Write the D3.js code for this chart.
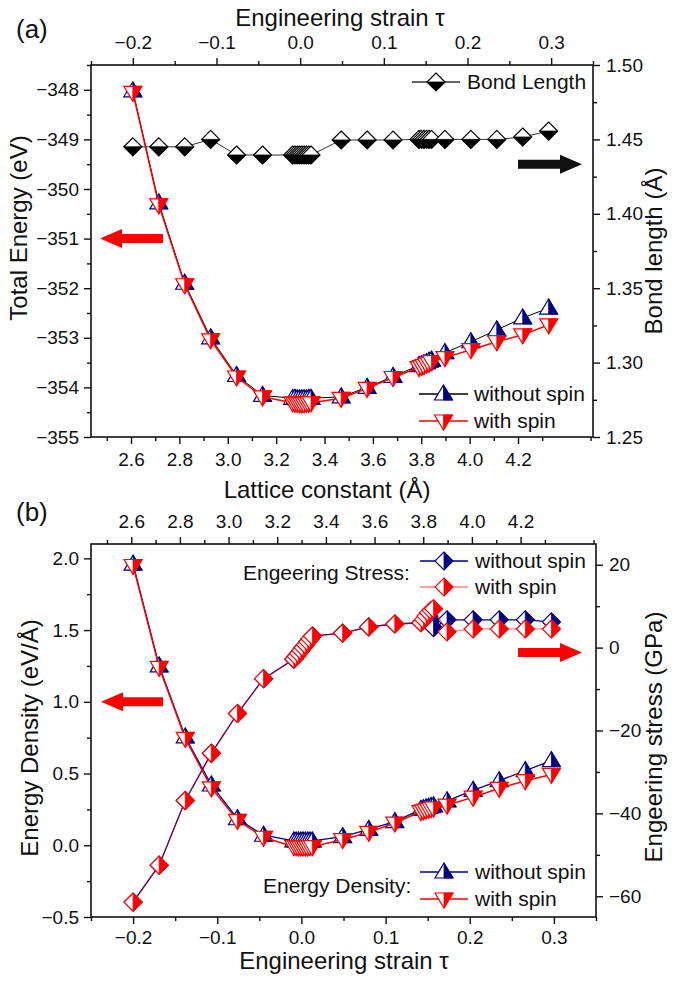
<!DOCTYPE html>
<html><head><meta charset="utf-8">
<script src="https://cdn.jsdelivr.net/npm/d3@7"></script>
<style>
body{margin:0;background:#fff}
svg text{font-family:"Liberation Sans",Arial,sans-serif;fill:#111}
</style>
</head><body>
<svg id="c" width="685" height="986"></svg>
<script>
// ---------------- data ----------------
const strain = [-0.2,-0.169,-0.138,-0.107,-0.076,-0.045,
  -0.009,-0.00625,-0.0035,-0.00075,0.002,0.00475,0.0075,0.01025,0.013,
  0.049,0.080,0.111,
  0.142,0.145,0.148,0.151,0.154,0.157,
  0.173,0.204,0.235,0.266,0.297];
const energyNoSpin = [-348.02,-350.28,-351.90,-353.00,-353.76,-354.16,
  -354.22,-354.22,-354.23,-354.23,-354.23,-354.23,-354.23,-354.22,-354.22,
  -354.19,-354.00,-353.78,
  -353.56,-353.54,-353.52,-353.50,-353.47,-353.45,
  -353.30,-353.08,-352.84,-352.60,-352.40];
const energySpin = [-348.05,-350.32,-351.93,-353.04,-353.79,-354.19,
  -354.31,-354.32,-354.32,-354.33,-354.33,-354.33,-354.32,-354.32,-354.31,
  -354.22,-354.02,-353.80,
  -353.60,-353.58,-353.56,-353.53,-353.51,-353.48,
  -353.40,-353.24,-353.08,-352.94,-352.74];
const bondLength = [1.445,1.445,1.445,1.450,1.4395,1.4395,
  1.4395,1.4395,1.4395,1.4395,1.4395,1.4395,1.4395,1.4395,1.4395,
  1.4496,1.4496,1.4496,
  1.450,1.450,1.450,1.450,1.450,1.450,
  1.450,1.450,1.450,1.4516,1.4556];
const densityNoSpin = [1.96,1.25,0.755,0.42,0.185,0.07,
  0.03,0.03,0.03,0.03,0.03,0.03,0.03,0.03,0.03,
  0.06,0.11,0.165,
  0.25,0.255,0.26,0.265,0.27,0.275,
  0.31,0.383,0.45,0.52,0.59];
const densitySpin = [1.95,1.24,0.745,0.40,0.174,0.056,
  -0.01,-0.01,-0.012,-0.012,-0.012,-0.012,-0.012,-0.01,-0.01,
  0.04,0.09,0.155,
  0.235,0.24,0.245,0.25,0.255,0.26,
  0.28,0.335,0.397,0.45,0.494];
const stressNoSpin = [-61.4,-52.5,-36.9,-25.5,-15.9,-7.5,
  -2.8,-2.1,-1.4,-0.7,0,0.7,1.4,2.1,2.8,
  3.5,5.0,5.7,
  6.0,6.6,7.2,7.6,6.5,4.8,
  6.7,6.7,6.7,6.7,6.2];
const stressSpin = [-61.4,-52.5,-36.9,-25.5,-15.9,-7.5,
  -2.8,-2.1,-1.4,-0.7,0,0.7,1.4,2.1,2.8,
  3.5,5.0,5.7,
  6.0,6.8,7.6,8.4,9.0,9.4,
  3.8,4.5,4.5,4.5,4.5];

const strainTicks = [-0.2,-0.1,0.0,0.1,0.2,0.3];
const strainMinor = [-0.25,-0.15,-0.05,0.05,0.15,0.25,0.35];
const latticeTicks = [2.6,2.8,3.0,3.2,3.4,3.6,3.8,4.0,4.2];
const latticeMinor = [2.5,2.7,2.9,3.1,3.3,3.5,3.7,3.9,4.1,4.3,4.5];
const energyTicks = [-355,-354,-353,-352,-351,-350,-349,-348];
const energyMinor = [-354.5,-353.5,-352.5,-351.5,-350.5,-349.5,-348.5,-347.5];
const bondTicks = [1.25,1.30,1.35,1.40,1.45,1.50];
const bondMinor = [1.275,1.325,1.375,1.425,1.475];
const densityTicks = [-0.5,0.0,0.5,1.0,1.5,2.0];
const densityMinor = [-0.25,0.25,0.75,1.25,1.75];
const stressTicks = [-60,-40,-20,0,20];
const stressMinor = [-50,-30,-10,10];

// ---------------- setup ----------------
const svg = d3.select("#c");
const NAVY = "#000080", RED = "#ff0000";
const P1 = {l:91, r:593, t:65, b:437};
const P2 = {l:91, r:596, t:544, b:917};

const xS1 = d3.scaleLinear().domain([-0.25,0.35]).range([P1.l,P1.r]);
const xL1 = d3.scaleLinear().domain([2.4346,4.510]).range([P1.l,P1.r]);
const yE  = d3.scaleLinear().domain([-355,-347.5]).range([P1.b,P1.t]);
const yB  = d3.scaleLinear().domain([1.25,1.50]).range([P1.b,P1.t]);
const xS2 = d3.scaleLinear().domain([-0.25,0.35]).range([P2.l,P2.r]);
const xL2 = d3.scaleLinear().domain([2.4346,4.510]).range([P2.l,P2.r]);
const yD  = d3.scaleLinear().domain([-0.5,2.1]).range([P2.b,P2.t]);
const yS  = d3.scaleLinear().domain([-65,25]).range([P2.b,P2.t]);

const fStrain = d3.format(".1f"), fLat = d3.format(".1f"), fE = d3.format("d"),
      fB = d3.format(".2f"), fD = d3.format(".1f"), fS = d3.format("d");

function axis(gen, scale, major, minor, fmt, tx, ty, pad){
  const gm = svg.append("g").attr("transform",`translate(${tx},${ty})`);
  gm.call(gen(scale).tickValues(minor).tickFormat("").tickSize(4).tickSizeOuter(0));
  const g = svg.append("g").attr("transform",`translate(${tx},${ty})`);
  g.call(gen(scale).tickValues(major).tickFormat(fmt).tickSize(7).tickPadding(pad).tickSizeOuter(0));
  [g,gm].forEach(a=>{
    a.selectAll(".domain").remove();
    a.attr("font-size",19).attr("font-family",'"Liberation Sans",Arial,sans-serif');
    a.selectAll("line").attr("stroke","#111").attr("stroke-width",1.4);
    a.selectAll("text").attr("fill","#111");
  });
  return g;
}
// top panel axes
axis(d3.axisTop, xS1, strainTicks, strainMinor, fStrain, 0, P1.t, 9);
axis(d3.axisBottom, xL1, latticeTicks, latticeMinor, fLat, 0, P1.b, 9);
axis(d3.axisLeft, yE, energyTicks, energyMinor, fE, P1.l, 0, 5);
axis(d3.axisRight, yB, bondTicks, bondMinor, fB, P1.r, 0, 6);
// bottom panel axes
axis(d3.axisTop, xL2, latticeTicks, latticeMinor, fLat, 0, P2.t, 9);
axis(d3.axisBottom, xS2, strainTicks, strainMinor, fStrain, 0, P2.b, 7);
axis(d3.axisLeft, yD, densityTicks, densityMinor, fD, P2.l, 0, 5);
axis(d3.axisRight, yS, stressTicks, stressMinor, fS, P2.r, 0, 6);

// frames
[P1,P2].forEach(p=>svg.append("rect").attr("x",p.l).attr("y",p.t)
  .attr("width",p.r-p.l).attr("height",p.b-p.t)
  .attr("fill","none").attr("stroke","#111").attr("stroke-width",1.6));

// ---------------- markers ----------------
const SH = {
  triUp:   {full:"M0,-9L9,6L-9,6Z",  half:"M0,-9L9,6L0,6Z"},
  triDown: {full:"M0,9L9,-6L-9,-6Z", half:"M0,9L0,-6L9,-6Z"},
  diaB:    {full:"M0,-9L9,0L0,9L-9,0Z", half:"M-9,0L9,0L0,9Z"},
  diaR:    {full:"M0,-9L9,0L0,9L-9,0Z", half:"M0,-9L9,0L0,9Z"}
};
function marker(g, shape, color, x, y){
  const m = g.append("g").attr("transform",`translate(${x},${y})`);
  m.append("path").attr("d",SH[shape].full).attr("fill","#fff").attr("stroke",color).attr("stroke-width",1.2);
  m.append("path").attr("d",SH[shape].half).attr("fill",color).attr("stroke",color).attr("stroke-width",0.8);
}
function series(xs, ys, xScale, yScale, shape, mcolor, lcolor, lw, lop){
  const g = svg.append("g");
  const pts = xs.map((x,i)=>[xScale(x), yScale(ys[i])]);
  g.append("path").attr("d", d3.line()(pts)).attr("fill","none")
    .attr("stroke", lcolor).attr("stroke-width", lw).attr("stroke-opacity", lop);
  pts.forEach(p=>marker(g, shape, mcolor, p[0], p[1]));
}

// top panel
series(strain, bondLength, xS1, yB, "diaB", "#000", "#333", 1, 1);
series(strain, energyNoSpin, xS1, yE, "triUp", NAVY, "#000", 1, 1);
series(strain, energySpin, xS1, yE, "triDown", RED, RED, 1.5, 1);
// bottom panel
series(strain, stressNoSpin, xS2, yS, "diaR", NAVY, NAVY, 1.3, 1);
series(strain, stressSpin, xS2, yS, "diaR", RED, RED, 1.3, 0.5);
series(strain, densityNoSpin, xS2, yD, "triUp", NAVY, NAVY, 1.3, 1);
series(strain, densitySpin, xS2, yD, "triDown", RED, RED, 1.5, 1);

// ---------------- arrows ----------------
function arrow(x0, x1, y, color){
  const dir = x1 > x0 ? 1 : -1, hl = 22, sh = 4.5, hh = 9.5;
  const xb = x1 - dir*hl;
  const d = `M${x0},${y-sh}L${xb},${y-sh}L${xb},${y-hh}L${x1},${y}L${xb},${y+hh}L${xb},${y+sh}L${x0},${y+sh}Z`;
  svg.append("path").attr("d",d).attr("fill",color);
}
arrow(163, 100, yE(-351), RED);
arrow(518, 582, yB(1.4333), "#111");
arrow(163, 101, yD(1.0), RED);
arrow(518, 582, yS(-1.2), RED);

// ---------------- legends ----------------
function legItem(x0, x1, y, shape, mcolor, lcolor, lop, label, tx, ty){
  svg.append("line").attr("x1",x0).attr("x2",x1).attr("y1",y).attr("y2",y)
    .attr("stroke",lcolor).attr("stroke-width",1.3).attr("stroke-opacity",lop);
  marker(svg, shape, mcolor, (x0+x1)/2, y);
  svg.append("text").attr("x",tx).attr("y",ty).attr("font-size",21).text(label);
}
legItem(412, 460, 82, "diaB", "#000", "#333", 1, "Bond Length", 467, 89);
legItem(419, 468, 394, "triUp", NAVY, "#000", 1, "without spin", 474, 401);
legItem(419, 468, 421, "triDown", RED, RED, 1, "with spin", 474, 428);

svg.append("text").attr("x",243).attr("y",580).attr("font-size",21).text("Engeering Stress:");
legItem(420, 468, 561, "diaR", NAVY, NAVY, 1, "without spin", 475, 568);
legItem(420, 468, 587, "diaR", RED, RED, 0.5, "with spin", 475, 594);

svg.append("text").attr("x",263).attr("y",893).attr("font-size",21).text("Energy Density:");
legItem(420, 468, 872, "triUp", NAVY, NAVY, 1, "without spin", 475, 879);
legItem(420, 468, 899, "triDown", RED, RED, 1, "with spin", 475, 906);

// ---------------- titles ----------------
function title(txt, x, y, rot, size){
  svg.append("text").attr("transform",`translate(${x},${y}) rotate(${rot})`)
    .attr("text-anchor","middle").attr("font-size",size||24).text(txt);
}
title("Engineering strain τ", 340, 26, 0);
title("Lattice constant (Å)", 327, 498, 0);
title("Engineering strain τ", 344, 969, 0);
title("Total Energy (eV)", 27, 228, -90);
title("Bond length (Å)", 662, 251, -90);
title("Energy Density (eV/Å)", 38, 738, -90);
title("Engeering stress (GPa)", 662, 737, -90);
svg.append("text").attr("x",16).attr("y",38).attr("font-size",26).text("(a)");
svg.append("text").attr("x",16).attr("y",521).attr("font-size",26).text("(b)");
</script>
</body></html>
